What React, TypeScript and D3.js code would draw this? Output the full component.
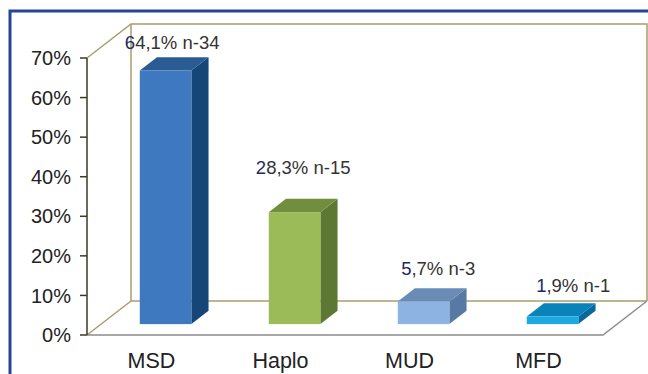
import React from "react";
import * as d3 from "d3";

const categories = ["MSD", "Haplo", "MUD", "MFD"];
const shares = [0.641, 0.283, 0.057, 0.019];
const counts = [34, 15, 3, 1];
const tickValues = [0, 0.1, 0.2, 0.3, 0.4, 0.5, 0.6, 0.7];

// face colours per bar: front, side, top
const faceColors = [
  { front: "#3e79c0", side: "#154677", top: "#2a5c93" },
  { front: "#9bbb59", side: "#5d7832", top: "#708e3e" },
  { front: "#8db3e2", side: "#567aa3", top: "#6a8bb5" },
  { front: "#1ba9e2", side: "#08699b", top: "#0a83ba" },
];

// label nudges relative to each bar's top (dx, dy)
const labelNudge = [
  [-2, -8],
  [0, -25],
  [6, -13],
  [12, -11],
];

const W = 648;
const H = 374;

export default function App() {
  const left = 87;
  const right = 603;
  const y = d3.scaleLinear().domain([0, 0.7]).range([335, 58]);
  const x = d3
    .scaleBand<string>()
    .domain(categories)
    .range([left, right])
    .paddingInner(0.6)
    .paddingOuter(0.3);

  // full depth of the floor and the bars' slice of it
  const depth = { dx: 44, dy: -34 };
  const f0 = 0.32;
  const f1 = 0.71;
  const off0 = { dx: depth.dx * f0, dy: depth.dy * f0 };
  const bd = { dx: depth.dx * (f1 - f0), dy: depth.dy * (f1 - f0) };

  const pct = (v: number) => (v * 100).toFixed(1).replace(".", ",") + "%";
  const pts = (arr: number[][]) => arr.map((p) => p.join(",")).join(" ");

  const wallColor = "#a69e6c";
  const y0 = y(0);
  const yTop = y(0.7);

  return (
    <svg
      width={W}
      height={H}
      style={{ position: "absolute", left: 0, top: 0 }}
      fontFamily="'Liberation Sans', Arial, sans-serif"
    >
      <rect x={0} y={0} width={W} height={H} fill="#ffffff" />
      {/* outer frame */}
      <rect
        x={10}
        y={11}
        width={W + 20}
        height={H + 20}
        fill="none"
        stroke="#26459a"
        strokeWidth={3}
      />

      {/* walls */}
      <g fill="none" stroke={wallColor} strokeWidth={1.5}>
        <polyline
          points={pts([
            [left, yTop],
            [left + depth.dx, yTop + depth.dy],
            [right + depth.dx, yTop + depth.dy],
            [right + depth.dx, y0 + depth.dy],
          ])}
        />
        <line
          x1={left + depth.dx}
          y1={yTop + depth.dy}
          x2={left + depth.dx}
          y2={y0 + depth.dy}
        />
        <line
          x1={left}
          y1={y0}
          x2={left + depth.dx}
          y2={y0 + depth.dy}
        />
        <line
          x1={left + depth.dx}
          y1={y0 + depth.dy}
          x2={right + depth.dx}
          y2={y0 + depth.dy}
        />
      </g>
      {/* floor edges */}
      <polyline
        points={pts([
          [left, y0],
          [right, y0],
          [right + depth.dx, y0 + depth.dy],
        ])}
        fill="none"
        stroke="#8c8c8c"
        strokeWidth={1.5}
      />

      {/* value axis */}
      <line x1={left} y1={yTop} x2={left} y2={y0} stroke="#3b3826" strokeWidth={1.5} />
      {tickValues.map((t) => (
        <g key={t}>
          <line x1={left - 7} x2={left} y1={y(t)} y2={y(t)} stroke="#3b3826" strokeWidth={1.5} />
          <text
            x={71}
            y={y(t)}
            dy="0.36em"
            textAnchor="end"
            fontSize={20}
            fill="#222"
          >
            {Math.round(t * 100) + "%"}
          </text>
        </g>
      ))}

      {/* bars */}
      {categories.map((c, i) => {
        const v = shares[i];
        const xl = (x(c) as number) + off0.dx;
        const xr = xl + x.bandwidth();
        const yb = y(0) + off0.dy;
        const yt = y(v) + off0.dy;
        const col = faceColors[i];
        return (
          <g key={c}>
            <polygon
              points={pts([
                [xr, yt],
                [xr + bd.dx, yt + bd.dy],
                [xr + bd.dx, yb + bd.dy],
                [xr, yb],
              ])}
              fill={col.side}
            />
            <polygon
              points={pts([
                [xl, yt],
                [xl + bd.dx, yt + bd.dy],
                [xr + bd.dx, yt + bd.dy],
                [xr, yt],
              ])}
              fill={col.top}
            />
            <rect x={xl} y={yt} width={xr - xl} height={yb - yt} fill={col.front} />
          </g>
        );
      })}

      {/* data labels */}
      {categories.map((c, i) => {
        const v = shares[i];
        const cx = (x(c) as number) + off0.dx + x.bandwidth() / 2 + bd.dx / 2 + labelNudge[i][0];
        const by = y(v) + off0.dy + bd.dy + labelNudge[i][1];
        const s = pct(v) + " n-" + counts[i];
        return (
          <text key={c} x={cx} y={by} textAnchor="middle" fontSize={18.5} fill="#333">
            <tspan fill="#1c2a5e">{s[0]}</tspan>
            {s.slice(1)}
          </text>
        );
      })}

      {/* category labels */}
      {categories.map((c) => (
        <text
          key={c}
          x={(x(c) as number) + x.bandwidth() / 2}
          y={368}
          textAnchor="middle"
          fontSize={21.5}
          fill="#222"
        >
          {c}
        </text>
      ))}
    </svg>
  );
}
